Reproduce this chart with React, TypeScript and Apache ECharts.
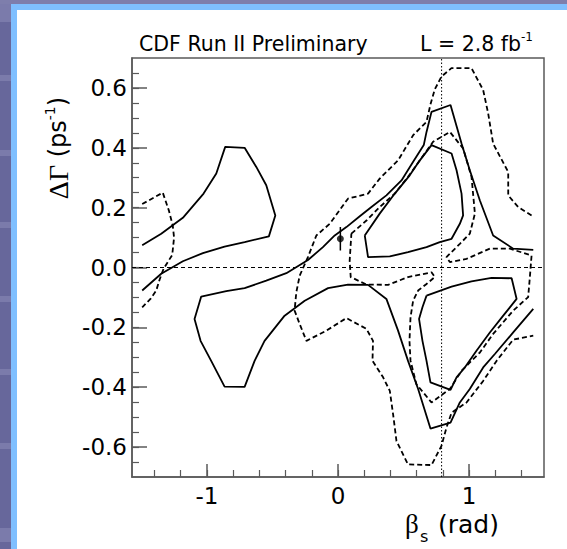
import React, { useEffect, useRef } from "react";
import * as echarts from "echarts";

// ---- axis ranges & ticks ----
const X_MIN = -Math.PI / 2;
const X_MAX = Math.PI / 2;
const Y_MIN = -0.7;
const Y_MAX = 0.7;

const xMajorTicks = [-1, 0, 1];
const xMinorTicks = [-1.4, -1.2, -1.0, -0.8, -0.6, -0.4, -0.2, 0, 0.2, 0.4, 0.6, 0.8, 1.0, 1.2, 1.4];
const yMajorTicks = [-0.6, -0.4, -0.2, 0, 0.2, 0.4, 0.6];
const yMinorTicks = [
  -0.65, -0.6, -0.55, -0.5, -0.45, -0.4, -0.35, -0.3, -0.25, -0.2, -0.15, -0.1, -0.05, 0,
  0.05, 0.1, 0.15, 0.2, 0.25, 0.3, 0.35, 0.4, 0.45, 0.5, 0.55, 0.6, 0.65,
];

// ---- contours (beta_s [rad], DeltaGamma [ps^-1]) ----
// 68% CL (solid)
const solidLeftLobe = [
  [-1.493, 0.074], [-1.348, 0.113], [-1.183, 0.166], [-1.025, 0.247], [-0.928, 0.314],
  [-0.86, 0.403], [-0.712, 0.4], [-0.623, 0.336], [-0.547, 0.275], [-0.478, 0.174],
  [-0.527, 0.104], [-0.712, 0.085], [-0.865, 0.07], [-1.03, 0.048], [-1.183, 0.021],
  [-1.348, -0.021], [-1.493, -0.077],
];
const solidBigBand = [
  [1.489, 0.059], [1.336, 0.063], [1.183, 0.107], [1.082, 0.224], [1.005, 0.325],
  [0.942, 0.414], [0.858, 0.543], [0.713, 0.52], [0.675, 0.453], [0.654, 0.409],
  [0.573, 0.353], [0.484, 0.291], [0.369, 0.241], [0.255, 0.202], [0.166, 0.171],
  [0.064, 0.135], [-0.025, 0.107], [-0.115, 0.068], [-0.229, 0.025], [-0.394, -0.019],
  [-0.547, -0.044], [-0.712, -0.069], [-0.852, -0.079], [-1.043, -0.097], [-1.094, -0.172],
  [-1.048, -0.245], [-0.967, -0.312], [-0.865, -0.398], [-0.712, -0.399], [-0.636, -0.312],
  [-0.56, -0.245], [-0.407, -0.161], [-0.254, -0.111], [-0.076, -0.069], [0.076, -0.057],
  [0.229, -0.058], [0.369, -0.105], [0.458, -0.211], [0.534, -0.312], [0.611, -0.406],
  [0.705, -0.538], [0.858, -0.518], [0.929, -0.451], [1.005, -0.406], [1.107, -0.334],
  [1.196, -0.289], [1.336, -0.217], [1.489, -0.138],
];
const solidUpperRight = [
  [0.204, 0.107], [0.229, 0.035], [0.395, 0.037], [0.534, 0.051], [0.675, 0.068],
  [0.776, 0.085], [0.866, 0.096], [0.929, 0.146], [0.954, 0.174], [0.942, 0.247],
  [0.904, 0.325], [0.866, 0.381], [0.713, 0.409], [0.624, 0.358], [0.547, 0.308],
  [0.433, 0.247], [0.318, 0.18], [0.204, 0.107],
];
const solidLowerRight = [
  [0.675, -0.094], [0.866, -0.064], [1.018, -0.046], [1.171, -0.035], [1.324, -0.036],
  [1.362, -0.105], [1.26, -0.161], [1.158, -0.217], [1.056, -0.278], [0.967, -0.334],
  [0.904, -0.367], [0.858, -0.409], [0.705, -0.384], [0.675, -0.312], [0.644, -0.245],
  [0.618, -0.172], [0.644, -0.133], [0.675, -0.094],
];
// 95% CL (dashed)
const dashedLeft = [
  [-1.493, 0.212], [-1.336, 0.25], [-1.29, 0.191], [-1.26, 0.14], [-1.25, 0.1],
  [-1.264, 0.042], [-1.33, -0.004], [-1.36, -0.04], [-1.386, -0.077], [-1.43, -0.105],
  [-1.493, -0.133],
];
const dashedBig = [
  [1.476, 0.174], [1.374, 0.202], [1.298, 0.241], [1.298, 0.319], [1.183, 0.414],
  [1.145, 0.515], [1.107, 0.593], [1.018, 0.666], [0.865, 0.666], [0.789, 0.638],
  [0.738, 0.595], [0.705, 0.545], [0.675, 0.487], [0.573, 0.442], [0.458, 0.358],
  [0.318, 0.297], [0.229, 0.247], [0.076, 0.23], [-0.063, 0.146], [-0.165, 0.107],
  [-0.229, 0.035], [-0.292, -0.027], [-0.318, -0.083], [-0.331, -0.144], [-0.292, -0.189],
  [-0.241, -0.245], [-0.089, -0.211], [0.064, -0.169], [0.217, -0.205], [0.267, -0.245],
  [0.263, -0.312], [0.344, -0.367], [0.395, -0.412], [0.42, -0.49], [0.446, -0.58],
  [0.534, -0.658], [0.713, -0.66], [0.789, -0.596], [0.827, -0.535], [0.866, -0.485],
  [0.98, -0.451], [1.107, -0.379], [1.209, -0.312], [1.336, -0.241], [1.489, -0.228],
];
const dashedInner = [
  [0.102, 0.113], [0.217, 0.157], [0.318, 0.202], [0.433, 0.247], [0.534, 0.303],
  [0.624, 0.358], [0.725, 0.42], [0.853, 0.453], [0.954, 0.398], [1.018, 0.303],
  [1.044, 0.18], [1.005, 0.113], [0.929, 0.079], [0.827, 0.035], [0.853, 0.018],
  [0.98, 0.029], [1.158, 0.063], [1.311, 0.063], [1.476, 0.04], [1.463, -0.032],
  [1.45, -0.099], [1.336, -0.144], [1.183, -0.222], [1.082, -0.284], [0.942, -0.345],
  [0.853, -0.406], [0.713, -0.451], [0.598, -0.39], [0.553, -0.312], [0.545, -0.245],
  [0.553, -0.166], [0.573, -0.111], [0.611, -0.077], [0.675, -0.055], [0.738, -0.032],
  [0.713, -0.016], [0.534, -0.032], [0.382, -0.058], [0.217, -0.057], [0.097, -0.032],
  [0.089, 0.023], [0.102, 0.113],
];

// measurement point with error bar
const measuredPoint = [0.018, 0.096];
const measuredErrLow = 0.057;
const measuredErrHigh = 0.135;

// reference lines
const refBetaS = 0.79;
const refDeltaGamma = 0;

const AXIS_COLOR = "#5a5a5a";
const TICK_FONT = "DejaVu Sans";

export default function App() {
  const ref = useRef<HTMLDivElement>(null);

  useEffect(() => {
    if (!ref.current) return;
    const chart = echarts.init(ref.current, undefined, { renderer: "svg" });

    const solid = (data: number[][]) => ({
      type: "line",
      data,
      showSymbol: false,
      symbol: "none",
      silent: true,
      z: 3,
      lineStyle: { color: "#000", width: 1.8, type: "solid" },
    });
    const dashed = (data: number[][]) => ({
      type: "line",
      data,
      showSymbol: false,
      symbol: "none",
      silent: true,
      z: 3,
      lineStyle: { color: "#000", width: 1.8, type: [5, 3] },
    });

    const option: any = {
      animation: false,
      grid: {
        left: 132,
        top: 58,
        width: 412,
        height: 419,
        show: true,
        borderColor: AXIS_COLOR,
        borderWidth: 1.5,
        backgroundColor: "transparent",
      },
      xAxis: [
        {
          type: "value",
          min: X_MIN,
          max: X_MAX,
          position: "bottom",
          axisLine: { show: true, onZero: false, lineStyle: { color: AXIS_COLOR, width: 1.5 } },
          axisTick: {
            show: true,
            inside: true,
            length: 13,
            customValues: xMajorTicks,
            lineStyle: { color: AXIS_COLOR, width: 1.5 },
          },
          axisLabel: {
            show: true,
            customValues: xMajorTicks,
            formatter: (v: number) => String(Math.round(v)),
            color: "#000",
            fontSize: 23,
            fontFamily: TICK_FONT,
            margin: 7,
          },
          splitLine: { show: false },
        },
        {
          type: "value",
          min: X_MIN,
          max: X_MAX,
          position: "bottom",
          axisLine: { show: false, onZero: false },
          axisTick: {
            show: true,
            inside: true,
            length: 7,
            customValues: xMinorTicks,
            lineStyle: { color: AXIS_COLOR, width: 1.2 },
          },
          axisLabel: { show: false },
          splitLine: { show: false },
        },
      ],
      yAxis: [
        {
          type: "value",
          min: Y_MIN,
          max: Y_MAX,
          position: "left",
          axisLine: { show: true, onZero: false, lineStyle: { color: AXIS_COLOR, width: 1.5 } },
          axisTick: {
            show: true,
            inside: true,
            length: 15,
            customValues: yMajorTicks,
            lineStyle: { color: AXIS_COLOR, width: 1.5 },
          },
          axisLabel: {
            show: true,
            customValues: yMajorTicks,
            formatter: (v: number) => v.toFixed(1),
            color: "#000",
            fontSize: 23,
            fontFamily: TICK_FONT,
            margin: 5,
          },
          splitLine: { show: false },
        },
        {
          type: "value",
          min: Y_MIN,
          max: Y_MAX,
          position: "left",
          axisLine: { show: false, onZero: false },
          axisTick: {
            show: true,
            inside: true,
            length: 7,
            customValues: yMinorTicks,
            lineStyle: { color: AXIS_COLOR, width: 1.2 },
          },
          axisLabel: { show: false },
          splitLine: { show: false },
        },
      ],
      series: [
        {
          type: "line",
          data: [[X_MIN, refDeltaGamma], [X_MAX, refDeltaGamma]],
          showSymbol: false,
          symbol: "none",
          silent: true,
          z: 2,
          lineStyle: { color: "#000", width: 1.1, type: [4, 3] },
        },
        {
          type: "line",
          data: [[refBetaS, Y_MIN], [refBetaS, Y_MAX]],
          showSymbol: false,
          symbol: "none",
          silent: true,
          z: 2,
          lineStyle: { color: "#000", width: 1, type: [1.5, 2] },
        },
        solid(solidLeftLobe),
        solid(solidBigBand),
        solid(solidUpperRight),
        solid(solidLowerRight),
        dashed(dashedLeft),
        dashed(dashedBig),
        dashed(dashedInner),
        {
          type: "line",
          data: [[measuredPoint[0], measuredErrLow], [measuredPoint[0], measuredErrHigh]],
          showSymbol: false,
          symbol: "none",
          silent: true,
          z: 4,
          lineStyle: { color: "#000", width: 1.5 },
        },
        {
          type: "scatter",
          data: [measuredPoint],
          symbol: "circle",
          symbolSize: 7,
          silent: true,
          z: 5,
          itemStyle: { color: "#000" },
        },
      ],
      graphic: [
        {
          type: "text",
          x: 139,
          y: 44,
          silent: true,
          style: {
            text: "CDF Run II Preliminary",
            fontFamily: TICK_FONT,
            fontSize: 20.5,
            fill: "#000",
            align: "left",
            verticalAlign: "middle",
          },
        },
        {
          type: "text",
          x: 420,
          y: 44,
          silent: true,
          style: {
            text: "L = 2.8 fb{sup|-1}",
            fontFamily: TICK_FONT,
            fontSize: 20.5,
            lineHeight: 26,
            fill: "#000",
            align: "left",
            verticalAlign: "middle",
            rich: {
              sup: { fontFamily: TICK_FONT, fontSize: 12, lineHeight: 12, verticalAlign: "top", fill: "#000" },
            },
          },
        },
        {
          type: "text",
          x: 58,
          y: 148,
          rotation: Math.PI / 2,
          silent: true,
          style: {
            text: "{g|ΔΓ} (ps{sup|-1})",
            fontFamily: TICK_FONT,
            fontSize: 24,
            lineHeight: 30,
            fill: "#000",
            align: "center",
            verticalAlign: "middle",
            rich: {
              g: { fontFamily: "Liberation Serif", fontSize: 28, lineHeight: 30, fill: "#000" },
              sup: { fontFamily: TICK_FONT, fontSize: 14, lineHeight: 14, verticalAlign: "top", fill: "#000" },
            },
          },
        },
        {
          type: "text",
          x: 405,
          y: 524,
          silent: true,
          style: {
            text: "β",
            fontFamily: "Liberation Serif",
            fontSize: 27,
            fill: "#000",
            align: "left",
            verticalAlign: "middle",
          },
        },
        {
          type: "text",
          x: 420,
          y: 536,
          silent: true,
          style: {
            text: "s",
            fontFamily: TICK_FONT,
            fontSize: 16,
            fill: "#000",
            align: "left",
            verticalAlign: "middle",
          },
        },
        {
          type: "text",
          x: 438,
          y: 524,
          silent: true,
          style: {
            text: "(rad)",
            fontFamily: TICK_FONT,
            fontSize: 25,
            fill: "#000",
            align: "left",
            verticalAlign: "middle",
          },
        },
      ],
    };

    chart.setOption(option);
    return () => chart.dispose();
  }, []);

  const stripes = [
    { top: 4, h: 18 },
    { top: 75, h: 6 },
    { top: 150, h: 6 },
    { top: 222, h: 6 },
    { top: 296, h: 6 },
    { top: 369, h: 6 },
    { top: 443, h: 6 },
    { top: 528, h: 14 },
  ];

  return (
    <div
      style={{
        position: "fixed",
        left: 0,
        top: 0,
        width: 567,
        height: 549,
        overflow: "hidden",
        background: "#7e7eac",
      }}
    >
      <div style={{ position: "absolute", left: 0, top: 4, width: 11, height: 545, background: "#67679b" }} />
      {stripes.map((s, i) => (
        <div
          key={i}
          style={{ position: "absolute", left: 0, top: s.top, width: 11, height: s.h, background: "#7b7bab" }}
        />
      ))}
      <div style={{ position: "absolute", left: 11, top: 4, right: 0, bottom: 0, background: "#7fbfff" }} />
      <div style={{ position: "absolute", left: 17, top: 10, right: 0, bottom: 0, background: "#ffffff" }} />
      <div ref={ref} style={{ position: "absolute", left: 0, top: 0, width: 567, height: 549 }} />
    </div>
  );
}
